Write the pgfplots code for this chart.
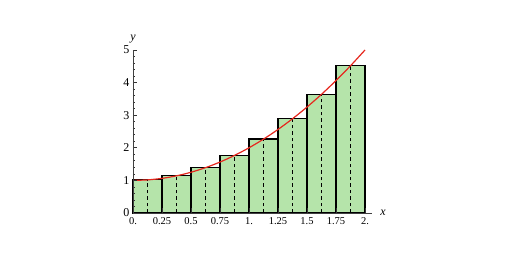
\documentclass[border=0pt]{standalone}
\usepackage{pgfplots}
\pgfplotsset{compat=1.18}
\usepackage{fontspec}
\setmainfont{Liberation Serif}
\definecolor{barfill}{RGB}{181,228,170}
\definecolor{curvered}{RGB}{230,40,30}
\begin{document}
\begin{tikzpicture}
\useasboundingbox (-133pt,-43pt) rectangle (379pt,213pt);
\begin{axis}[
  at={(0pt,0pt)}, anchor=south west,
  x=116pt, y=32.6pt,
  xmin=0, xmax=2.06, ymin=0, ymax=5,
  axis lines=left,
  axis on top,
  axis line style={-, draw=black!75, line width=0.8pt},
  tick align=inside,
  major tick length=4.5pt, minor tick length=2.5pt,
  tick style={black!80, line width=0.7pt},
  xtick={0,0.25,0.5,0.75,1,1.25,1.5,1.75,2},
  xticklabels={0.,0.25,0.5,0.75,1.,1.25,1.5,1.75,2.},
  ytick={0,1,2,3,4,5},
  yticklabels={0,1,2,3,4,5},
  minor y tick num=4,
  /pgf/number format/assume math mode=true,
  x tick label style={font=\fontsize{10.5}{12}\selectfont, black, yshift=-1pt},
  y tick label style={font=\fontsize{12}{14}\selectfont, black},
  xlabel={\textit{x}}, ylabel={\textit{y}},
  every axis x label/.style={at={(rel axis cs:1,0)}, anchor=west, xshift=5pt, font=\fontsize{12}{14}\selectfont},
  every axis y label/.style={at={(rel axis cs:0,1)}, anchor=south, yshift=3pt, font=\fontsize{12}{14}\selectfont},
  clip=false,
]
\addplot[ybar interval, fill=barfill, draw=black, line width=1.3pt] coordinates {
(0,1.02) (0.25,1.14) (0.5,1.39) (0.75,1.77) (1,2.27) (1.25,2.89) (1.5,3.64) (1.75,4.52) (2,4.52)};
\addplot[ycomb, black, line width=1pt, dash pattern=on 3.5pt off 3pt, mark=none] coordinates {
(0.125,1.02) (0.375,1.14) (0.625,1.39) (0.875,1.77) (1.125,2.27) (1.375,2.89) (1.625,3.64) (1.875,4.52)};
\addplot[smooth, curvered, line width=1.2pt, mark=none] coordinates {
(0,1) (0.125,1.016) (0.25,1.0625) (0.375,1.14) (0.5,1.25) (0.625,1.39) (0.75,1.5625) (0.875,1.766) (1,2) (1.125,2.266) (1.25,2.5625) (1.375,2.89) (1.5,3.25) (1.625,3.64) (1.75,4.0625) (1.875,4.516) (2,5)};
\end{axis}
\end{tikzpicture}
\end{document}
